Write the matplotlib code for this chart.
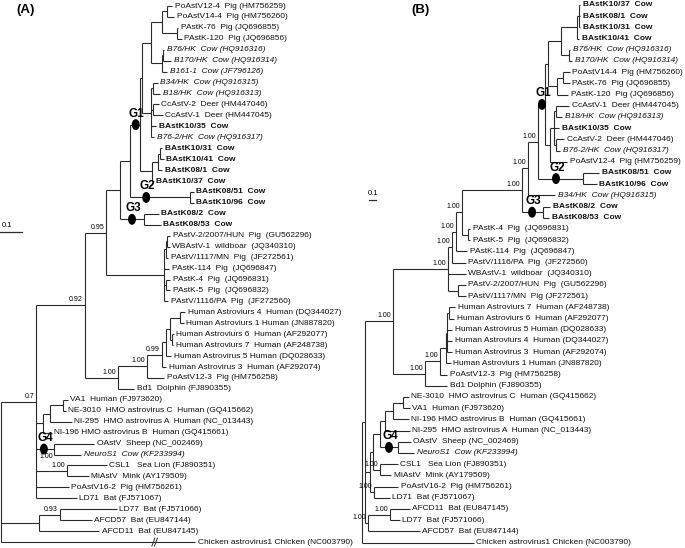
import matplotlib.pyplot as plt
from matplotlib.collections import LineCollection
from matplotlib.patches import Ellipse

plt.rcParams["font.family"] = ["Liberation Sans", "DejaVu Sans"]


def L(label, bl, brk=None):
    return {"label": label, "bl": bl, "brk": brk}


def N(bl, kids, sup=None, mark=None, below=False):
    return {"bl": bl, "kids": kids, "sup": sup, "mark": mark, "below": below}


# branch lengths in substitutions per site
TREE_A = N(0, [
    N(0.1613, [
        N(0.2258, [
            N(0.0968, [
                N(0.0645, [
                    N(0.0461, [
                        N(0.0438, [
                            N(0.0115, [
                                N(0.0415, [
                                    N(0.0507, [
                                        N(0.0230, [L("PoAstV12-4  Pig (HM756259)", 0.0253),
                                                   L("PoAstV14-4  Pig (HM756260)", 0.0323)]),
                                        N(0.0691, [L("PAstK-76  Pig (JQ696855)", 0.0046),
                                                   L("PAstK-120  Pig (JQ696856)", 0.0207)]),
                                    ]),
                                    N(0.0507, [
                                        N(0.0046, [L("B76/HK  Cow (HQ916316)", 0.0046),
                                                   L("B170/HK  Cow (HQ916314)", 0.0369)]),
                                        L("B161-1  Cow (JF796126)", 0.0230),
                                    ]),
                                ]),
                                N(0.0415, [
                                    N(0.0092, [L("B34/HK  Cow (HQ916315)", 0.0207),
                                               L("B18/HK  Cow (HQ916313)", 0.0323)]),
                                    N(0.0092, [L("CcAstV-2  Deer (HM447046)", 0.0276),
                                               L("CcAstV-1  Deer (HM447045)", 0.0438)]),
                                    L("BAstK10/35  Cow", 0.0230),
                                    L("B76-2/HK  Cow (HQ916317)", 0.0138),
                                ]),
                            ]),
                            N(0.0576, [
                                N(0.0276, [
                                    N(0.0092, [L("BAstK10/31  Cow", 0.0115),
                                               L("BAstK10/41  Cow", 0.0184)]),
                                    L("BAstK08/1  Cow", 0.0207),
                                ]),
                                L("BAstK10/37  Cow", 0.0069),
                            ]),
                        ], mark="G1"),
                        N(0.2765, [L("BAstK08/51  Cow", 0.0184),
                                   L("BAstK10/96  Cow", 0.0184)], mark="G2"),
                    ]),
                    N(0.1106, [L("BAstK08/2  Cow", 0.0691),
                               L("BAstK08/53  Cow", 0.0783)], mark="G3"),
                ]),
                N(0.2673, [
                    N(0.0069, [
                        N(0.0046, [L("PAstV-2/2007/HUN  Pig  (GU562296)", 0.0184),
                                   L("WBAstV-1  wildboar  (JQ340310)", 0.0161)]),
                        L("PAstV/1117/MN  Pig  (JF272561)", 0.0115),
                    ]),
                    L("PAstK-114  Pig  (JQ696847)", 0.0230),
                    N(0.0092, [L("PAstK-4  Pig  (JQ696831)", 0.0207),
                               L("PAstK-5  Pig  (JQ696832)", 0.0207)]),
                    L("PAstV/1116/PA  Pig  (JF272560)", 0.0184),
                ]),
            ], sup="0.95"),
            N(0.1521, [
                N(0.1336, [
                    N(0.0691, [
                        N(0.0184, [
                            N(0.0184, [
                                N(0.0461, [L("Human Astroviurs 4  Human (DQ344027)", 0.0253),
                                           L("Human Astroviurs 1 Human (JN887820)", 0.0184)]),
                                N(0.0092, [L("Human Astroviurs 6  Human (AF292077)", 0.0092),
                                           L("Human Astroviurs 7  Human (AF248738)", 0.0069)]),
                            ]),
                            L("Human Astrovirus 5 Human (DQ028633)", 0.0253),
                        ]),
                        L("Human Astrovirus 3  Human (AF292074)", 0.0207),
                    ], sup="0.99"),
                    L("PoAstV12-3  Pig (HM756258)", 0.0806),
                ], sup="1.00"),
                L("Bd1  Dolphin (FJ890355)", 0.0760),
            ], sup="1.00"),
        ], sup="0.92"),
        N(0.0323, [
            N(0.0323, [
                N(0.0599, [L("VA1  Human (FJ973620)", 0.0207),
                           L("NE-3010  HMO astrovirus C  Human (GQ415662)", 0.0115)]),
                L("NI-295  HMO astrovirus A  Human (NC_013443)", 0.0991),
            ]),
            L("NI-196 HMO astrovirus B  Human (GQ415661)", 0.0392),
        ]),
        N(0.0829, [L("OAstV  Sheep (NC_002469)", 0.1866),
                   L("NeuroS1  Cow (KF233994)", 0.1267)], sup="1.00", mark="G4", below=True),
        N(0.1429, [L("CSL1   Sea Lion (FJ890351)", 0.1820),
                   L("MiAstV  Mink (AY179509)", 0.0991)], sup="1.00"),
        L("PoAstV16-2  Pig (HM756261)", 0.1498),
        L("LD71  Bat (FJ571067)", 0.1889),
    ], sup="0.7"),
    N(0.1751, [
        N(0.0968, [L("LD77  Bat (FJ571066)", 0.2604),
                   L("AFCD57  Bat (EU847144)", 0.1452)], sup="0.93"),
        L("AFCD11  Bat (EU847145)", 0.2788),
    ]),
    L("Chicken astrovirus1 Chicken (NC003790)", 0.8963, brk=0.79),
])

TREE_B = N(0, [
    N(0.0429, [
        N(0.4000, [
            N(0.7857, [
                N(0.0571, [
                    N(0.0571, [
                        N(0.0857, [
                            N(0.8571, [
                                N(0.0857, [
                                    N(0.1429, [
                                        N(0.1000, [
                                            N(0.0429, [
                                                N(0.1857, [
                                                    N(0.2286, [
                                                        N(0.0286, [L("BAstK10/37  Cow", 0.0214),
                                                                   L("BAstK08/1  Cow", 0.0214),
                                                                   L("BAstK10/31  Cow", 0.0214)]),
                                                        L("BAstK10/41  Cow", 0.0357),
                                                    ]),
                                                    N(0.1143, [L("B76/HK  Cow (HQ916316)", 0.0214),
                                                               L("B170/HK  Cow (HQ916314)", 0.0500)]),
                                                ]),
                                                N(0.1286, [
                                                    N(0.0857, [L("PoAstV14-4  Pig (HM756260)", 0.0929),
                                                               L("PAstK-76  Pig (JQ696855)", 0.0929)]),
                                                    L("PAstK-120  Pig (JQ696856)", 0.1643),
                                                ]),
                                            ]),
                                            N(0.0714, [
                                                N(0.0571, [
                                                    N(0.0286, [L("CcAstV-1  Deer (HM447045)", 0.1929),
                                                               L("B18/HK  Cow (HQ916313)", 0.0929)]),
                                                    L("BAstK10/35  Cow", 0.0786),
                                                    N(0.0286, [L("CcAstV-2  Deer (HM447046)", 0.1214),
                                                               L("B76-2/HK  Cow (HQ916317)", 0.0643)]),
                                                ]),
                                                L("PoAstV12-4  Pig (HM756259)", 0.2500),
                                            ]),
                                        ], mark="G1"),
                                        N(0.6429, [L("BAstK08/51  Cow", 0.2357),
                                                   L("BAstK10/96  Cow", 0.1929)], mark="G2"),
                                    ], sup="1.00"),
                                    L("B34/HK  Cow (HQ916315)", 0.3929),
                                ], sup="1.00"),
                                N(0.3000, [L("BAstK08/2  Cow", 0.1071),
                                           L("BAstK08/53  Cow", 0.0929)], mark="G3"),
                            ], sup="1.00"),
                            N(0.0857, [L("PAstK-4  Pig  (JQ696831)", 0.0357),
                                       L("PAstK-5  Pig  (JQ696832)", 0.0357)]),
                        ], sup="1.00"),
                        L("PAstK-114  Pig  (JQ696847)", 0.1643),
                    ], sup="1.00"),
                    L("PAstV/1116/PA  Pig  (JF272560)", 0.1929),
                ], sup="1.00"),
                L("WBAstV-1  wildboar  (JQ340310)", 0.2500),
                N(0.1429, [L("PAstV-2/2007/HUN  Pig  (GU562296)", 0.1071),
                           L("PAstV/1117/MN  Pig (JF272561)", 0.1071)]),
            ], sup="1.00"),
            N(0.4571, [
                N(0.2143, [
                    N(0.0857, [
                        N(0.0214, [
                            N(0.0286, [L("Human Astroviurs 7  Human (AF248738)", 0.0857),
                                       L("Human Astroviurs 6  Human (AF292077)", 0.0714)]),
                            L("Human Astrovirus 5 Human (DQ028633)", 0.0714),
                            L("Human Astroviurs 4  Human (DQ344027)", 0.0714),
                            L("Human Astrovirus 3  Human (AF292074)", 0.0714),
                        ]),
                        L("Human Astroviurs 1 Human (JN887820)", 0.0643),
                    ]),
                    L("PoAstV12-3  Pig (HM756258)", 0.1071),
                ], sup="1.00"),
                L("Bd1 Dolphin (FJ890355)", 0.3214),
            ], sup="1.00"),
        ], sup="1.00"),
        N(0.0714, [
            N(0.0429, [
                N(0.1000, [
                    N(0.0714, [
                        N(0.1143, [
                            N(0.1429, [L("NE-3010  HMO astrovirus C  Human (GQ415662)", 0.0786),
                                       L("VA1  Human (FJ973620)", 0.0929)]),
                            L("NI-196 HMO astrovirus B  Human (GQ415661)", 0.2214),
                        ]),
                        L("NI-295  HMO astrovirus A  Human (NC_013443)", 0.3500),
                    ]),
                    N(0.2571, [L("OAstV  Sheep (NC_002469)", 0.1786),
                               L("NeuroS1  Cow (KF233994)", 0.2357)], mark="G4"),
                ]),
                N(0.1000, [L("CSL1   Sea Lion (FJ890351)", 0.2500),
                           L("MiAstV  Mink (AY179509)", 0.1571)], sup="1.00"),
            ]),
            N(0.0571, [L("PoAstV16-2  Pig (HM756261)", 0.3500),
                       L("LD71  Bat (FJ571067)", 0.2286)], sup="1.00"),
        ]),
        N(0.0429, [
            N(0.3143, [L("AFCD11  Bat (EU847145)", 0.2786),
                       L("LD77  Bat (FJ571066)", 0.1357)], sup="1.00"),
            L("AFCD57  Bat (EU847144)", 0.7357),
        ], sup="1.00"),
    ]),
    L("Chicken astrovirus1 Chicken (NC003790)", 1.6000),
])

ITALIC = ("B76/HK", "B170/HK", "B161-1", "B34/HK", "B18/HK", "B76-2/HK", "NeuroS1")

# where the group dot sits along its branch (0 = parent node, 1 = child node)
MARK_POS_A = {"G1": 0.6, "G2": 0.27, "G3": 0.5, "G4": 0.44}
MARK_POS_B = {"G1": 0.57, "G2": 0.4, "G3": 0.48, "G4": 0.5}

LINE = "#2b2b2b"


def layout(node, parent_x, rows, scale, recs):
    x = parent_x + node["bl"] * scale
    if "label" in node:
        y = rows.pop(0)
    else:
        ys = [layout(k, x, rows, scale, recs) for k in node["kids"]]
        y = (ys[0] + ys[-1]) / 2
        node["span"] = (ys[0], ys[-1])
    recs.append((node, parent_x, x, y))
    return y


def count_leaves(node):
    if "label" in node:
        return 1
    return sum(count_leaves(k) for k in node["kids"])


def draw_tree(ax, tree, root_x, scale, y0, dy, mark_pos):
    n = count_leaves(tree)
    rows = [y0 + i * dy for i in range(n)]
    recs = []
    layout(tree, root_x, rows, scale, recs)
    segs = []
    for node, px, x, y in recs:
        if node["bl"] > 0:
            segs.append([(px, y), (x, y)])
        if "label" in node:
            first = node["label"].split()[0]
            weight = "bold" if first.startswith("BAstK") else "normal"
            style = "italic" if first in ITALIC else "normal"
            ax.text(x + 2.5, y, node["label"], fontsize=6, va="center", ha="left",
                    fontweight=weight, fontstyle=style, color="#111111")
            if node["brk"]:
                bx = px + node["brk"] * (x - px)
                for off in (-1.3, 1.3):
                    ax.plot([bx + off - 1.5, bx + off + 1.5], [y + 4, y - 4],
                            color=LINE, lw=0.7)
            continue
        segs.append([(x, node["span"][0]), (x, node["span"][1])])
        if node["sup"]:
            if node["below"]:
                ax.text(x - 1, y + 3.5, node["sup"], fontsize=5, ha="right", va="top")
            else:
                ax.text(x - 2, y - 2, node["sup"], fontsize=5, ha="right", va="bottom")
        if node["mark"]:
            mx = px + mark_pos[node["mark"]] * (x - px)
            ax.add_patch(Ellipse((mx, y), 6.5, 9.5, color="black", zorder=5))
            ax.text(mx + 1, y - 11, node["mark"], fontsize=8.5, fontweight="bold",
                    ha="center", va="center")
    ax.add_collection(LineCollection(segs, colors=LINE, linewidths=0.8))


fig = plt.figure(figsize=(6.85, 5.48), dpi=100)
ax = fig.add_axes([0, 0, 1, 1])
ax.set_xlim(0, 685)
ax.set_ylim(548, 0)
ax.axis("off")

draw_tree(ax, TREE_A, 1, 217, 6, 10.94, MARK_POS_A)
draw_tree(ax, TREE_B, 362, 70, 5, 11.2, MARK_POS_B)

# panel letters and scale bars
ax.text(26, 10, "(A)", fontsize=9.5, fontweight="bold", ha="center", va="center")
ax.text(421, 10, "(B)", fontsize=9.5, fontweight="bold", ha="center", va="center")
ax.plot([0, 0.1 * 217], [232, 232], color=LINE, lw=0.9)
ax.text(7.5, 229, "0.1", fontsize=5.5, ha="center", va="bottom")
ax.plot([369, 369 + 0.1 * 70], [200, 200], color=LINE, lw=0.9)
ax.text(373, 197, "0.1", fontsize=5.5, ha="center", va="bottom")

fig.savefig("out.png", dpi=100)
